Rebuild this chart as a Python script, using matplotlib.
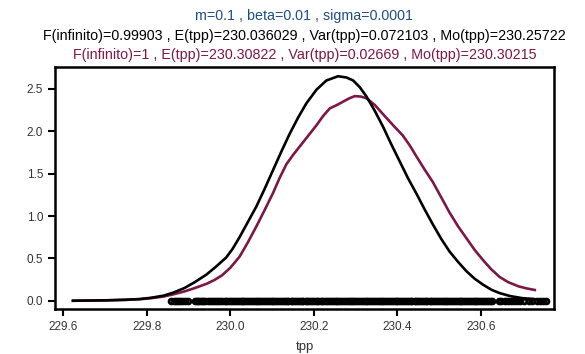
import numpy as np
import matplotlib
matplotlib.use("Agg")
import matplotlib.pyplot as plt

plt.rcParams['font.family'] = ['Liberation Sans', 'DejaVu Sans']

# densidad ajustada (negro)
x_negro = [229.623, 229.70, 229.75, 229.783, 229.81, 229.84, 229.863, 229.89, 229.915,
           229.943, 229.965, 229.99, 230.005, 230.022, 230.042, 230.062, 230.082,
           230.102, 230.122, 230.142, 230.162, 230.182, 230.206, 230.23, 230.258,
           230.278, 230.294, 230.31, 230.326, 230.346, 230.366, 230.385, 230.405,
           230.425, 230.446, 230.465, 230.485, 230.505, 230.525, 230.545, 230.565,
           230.585, 230.605, 230.625, 230.645, 230.67, 230.70, 230.725, 230.745]
y_negro = [0.0, 0.005, 0.012, 0.02, 0.035, 0.06, 0.095, 0.15, 0.22,
           0.31, 0.40, 0.51, 0.61, 0.75, 0.93, 1.11, 1.32,
           1.54, 1.76, 1.97, 2.16, 2.33, 2.49, 2.60, 2.65,
           2.635, 2.60, 2.52, 2.41, 2.24, 2.05, 1.85, 1.65,
           1.45, 1.26, 1.08, 0.90, 0.73, 0.58, 0.46, 0.35,
           0.26, 0.19, 0.13, 0.09, 0.055, 0.03, 0.02, 0.012]

# densidad empirica (granate)
x_rojo = [229.623, 229.70, 229.75, 229.783, 229.81, 229.84, 229.863, 229.89, 229.915,
          229.943, 229.962, 229.98, 230.0, 230.022, 230.042, 230.062, 230.082,
          230.102, 230.118, 230.134, 230.15, 230.166, 230.19, 230.206, 230.222,
          230.238, 230.255, 230.27, 230.285, 230.298, 230.312, 230.326, 230.346,
          230.366, 230.39, 230.413, 230.43, 230.446, 230.465, 230.485, 230.505,
          230.525, 230.545, 230.565, 230.585, 230.605, 230.625, 230.645, 230.665,
          230.69, 230.71, 230.729]
y_rojo = [0.0, 0.004, 0.01, 0.018, 0.03, 0.05, 0.075, 0.11, 0.15,
          0.20, 0.245, 0.30, 0.39, 0.52, 0.69, 0.875, 1.07,
          1.27, 1.45, 1.61, 1.72, 1.82, 1.97, 2.07, 2.18,
          2.27, 2.31, 2.35, 2.39, 2.415, 2.41, 2.39, 2.31,
          2.20, 2.07, 1.95, 1.83, 1.70, 1.55, 1.40, 1.22,
          1.04, 0.88, 0.74, 0.60, 0.48, 0.37, 0.28, 0.22,
          0.17, 0.145, 0.127]

# observaciones (rug en y=0)
obs = [229.859, 229.864, 229.869, 229.874, 229.879, 229.884, 229.892, 229.899,
       229.915, 229.919, 229.923, 229.927, 229.931, 229.935, 229.940, 229.946,
       229.951, 229.955, 229.961, 229.966, 229.970, 229.975, 229.981, 229.986,
       229.990, 229.995, 230.000, 230.004, 230.009, 230.013, 230.018, 230.022,
       230.027, 230.031, 230.036, 230.040, 230.045, 230.049, 230.054, 230.058,
       230.063, 230.067, 230.072, 230.076, 230.081, 230.085, 230.090, 230.094,
       230.099, 230.103, 230.108, 230.112, 230.117, 230.121, 230.126, 230.130,
       230.135, 230.139, 230.144, 230.148, 230.153, 230.157, 230.162, 230.166,
       230.171, 230.175, 230.180, 230.184, 230.189, 230.193, 230.198, 230.202,
       230.207, 230.211, 230.216, 230.220, 230.225, 230.229, 230.234, 230.238,
       230.243, 230.247, 230.252, 230.256, 230.261, 230.265, 230.270, 230.274,
       230.279, 230.283, 230.288, 230.292, 230.297, 230.301, 230.306, 230.310,
       230.315, 230.319, 230.324, 230.328, 230.333, 230.337, 230.342, 230.346,
       230.351, 230.355, 230.360, 230.364, 230.369, 230.373, 230.378, 230.382,
       230.387, 230.391, 230.396, 230.400, 230.405, 230.409, 230.414, 230.418,
       230.423, 230.427, 230.432, 230.436, 230.441, 230.445, 230.450, 230.454,
       230.459, 230.463, 230.468, 230.472, 230.477, 230.481, 230.486, 230.490,
       230.495, 230.499, 230.504, 230.508, 230.513, 230.517, 230.522, 230.526,
       230.531, 230.535, 230.540, 230.544, 230.549, 230.553, 230.558, 230.562,
       230.567, 230.571, 230.576, 230.580, 230.585, 230.589, 230.594, 230.598,
       230.603, 230.607, 230.612, 230.616, 230.621, 230.627,
       230.644, 230.649, 230.657, 230.664, 230.671, 230.679, 230.686, 230.693,
       230.704, 230.715, 230.722,
       230.734, 230.741, 230.749, 230.755]

titulo1 = "m=0.1 , beta=0.01 , sigma=0.0001"
titulo2 = "F(infinito)=0.99903 , E(tpp)=230.036029 , Var(tpp)=0.072103 , Mo(tpp)=230.25722"
titulo3 = "F(infinito)=1 , E(tpp)=230.30822 , Var(tpp)=0.02669 , Mo(tpp)=230.30215"

azul = '#1d4f86'
granate = '#7d1748'

fig = plt.figure(figsize=(5.85, 3.54), dpi=100)
ax = fig.add_axes([0.094, 0.127, 0.853, 0.684])

ax.plot(obs, np.zeros(len(obs)), 'o', mfc='none', mec='black', ms=3.5, mew=2.0, zorder=1)
ax.plot(x_negro, y_negro, color='black', lw=1.9, zorder=3)
ax.plot(x_rojo, y_rojo, color=granate, lw=1.9, zorder=2)

ax.set_xlim(229.58, 230.775)
ax.set_ylim(-0.098, 2.76)
ax.set_xticks([229.6, 229.8, 230.0, 230.2, 230.4, 230.6])
ax.set_xticklabels(['229.6', '229.8', '230.0', '230.2', '230.4', '230.6'])
ax.set_yticks([0, 0.5, 1.0, 1.5, 2.0, 2.5])
ax.set_yticklabels(['0.0', '0.5', '1.0', '1.5', '2.0', '2.5'])
ax.tick_params(direction='out', length=5, width=1.5, labelsize=8.5, colors='black',
               labelcolor='#333333')
for s in ax.spines.values():
    s.set_linewidth(1.8)
ax.set_xlabel('tpp', fontsize=9.5, color='#333333', labelpad=6)

cx = 0.094 + 0.853 / 2
fig.text(cx, 1 - 16 / 354, titulo1, ha='center', va='center', fontsize=10.3, color=azul)
fig.text(cx, 1 - 36 / 354, titulo2, ha='center', va='center', fontsize=10.3, color='black')
fig.text(cx, 1 - 55 / 354, titulo3, ha='center', va='center', fontsize=10.3, color=granate)

fig.savefig('out.png', dpi=100)
